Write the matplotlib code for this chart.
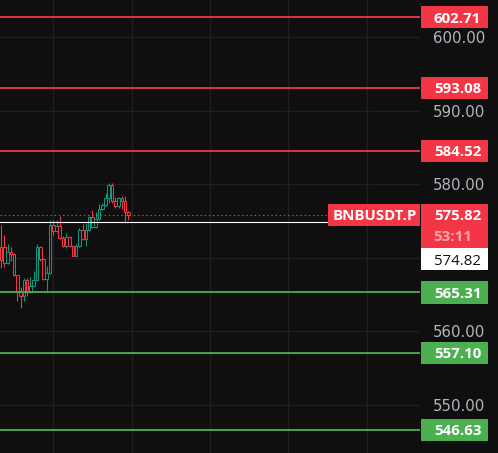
import numpy as np
import matplotlib
matplotlib.use("Agg")
import matplotlib.pyplot as plt
from matplotlib.patches import Rectangle
import matplotlib.transforms as mtransforms

plt.rcParams['lines.scale_dashes'] = False

# ---------------- data ----------------
opens = [571.5, 571.5, 569.3, 570.8, 570.5, 567.6, 565.4, 564.8, 567.0, 565.4,
         566.2, 567.0, 571.5, 569.8, 567.1, 567.9, 574.4, 573.6, 574.3, 572.7,
         571.6, 572.8, 571.6, 570.3, 571.6, 573.8, 572.6, 573.8, 575.5, 574.2,
         575.3, 576.6, 577.2, 578.1, 579.9, 577.7, 577.0, 578.1, 577.7, 576.2]
highs = [574.5, 573.1, 571.9, 571.5, 570.6, 567.6, 566.1, 567.3, 567.3, 567.4,
         568.2, 571.9, 571.6, 569.9, 568.9, 575.2, 575.2, 575.1, 575.7, 572.9,
         573.4, 573.0, 571.7, 571.9, 574.0, 574.6, 574.7, 575.7, 576.5, 576.2,
         577.3, 577.4, 578.8, 580.1, 580.2, 578.2, 578.2, 578.4, 578.4, 576.3]
lows = [568.6, 568.8, 569.1, 569.5, 567.5, 564.2, 563.2, 564.1, 564.8, 565.2,
        566.1, 566.8, 569.6, 567.0, 565.4, 567.8, 573.1, 573.5, 572.5, 571.5,
        571.3, 571.5, 570.2, 570.2, 571.5, 572.4, 571.6, 573.7, 574.0, 574.0,
        575.2, 576.5, 577.0, 577.5, 577.5, 576.8, 576.8, 576.6, 574.7, 575.2]
closes = [569.7, 569.3, 570.8, 570.5, 567.6, 565.4, 564.8, 567.0, 565.4, 566.2,
          567.0, 571.5, 569.8, 567.1, 567.9, 574.4, 573.6, 574.3, 572.7, 571.6,
          572.8, 571.6, 570.3, 571.6, 573.8, 572.6, 573.8, 575.5, 574.2, 575.3,
          576.6, 577.2, 578.1, 579.9, 577.7, 577.0, 578.1, 577.7, 576.2, 575.82]

resistance_levels = [602.71, 593.08, 584.52]
support_levels = [565.31, 557.10, 546.63]
last_price = 575.82
mark_price = 574.82
symbol = "BNBUSDT.P"
countdown = "53:11"
price_ticks = [550, 560, 570, 580, 590, 600]
price_tick_labels = ["550.00", "560.00", "", "580.00", "590.00", "600.00"]  # 570 hidden behind labels
time_grid = [16, 40, 64, 88, 112]

# ---------------- style ----------------
BG = "#0f0f0f"
GRID = "#1f1f1f"
RED = "#f23645"
GREEN_LVL = "#4caf50"
UP = "#089981"
DOWN = "#f23645"
TXT = "#b2b5be"
LFONT = ['Open Sans', 'DejaVu Sans']

W, H = 498, 453
YMIN, YMAX = 543.48, 605.03
ppu = H / (YMAX - YMIN)  # pixels per price unit

fig = plt.figure(figsize=(W / 100, H / 100), dpi=100, facecolor=BG)
ax = fig.add_axes([0, 0, 420 / W, 1])
ax.set_facecolor(BG)
ax.set_xlim(-0.31, 128.3)
ax.set_ylim(YMIN, YMAX)
for s in ax.spines.values():
    s.set_visible(False)

ax.set_xticks(time_grid)
ax.set_xticklabels([])
ax.set_yticks(price_ticks)
ax.set_yticklabels(price_tick_labels)
ax.yaxis.tick_right()
ax.tick_params(axis='both', length=0)
ax.tick_params(axis='y', pad=9.4, labelcolor=TXT, labelsize=10.8)
ax.grid(True, color=GRID, linewidth=1.0, zorder=0)
ax.set_axisbelow(True)

# candles
o = np.array(opens); h = np.array(highs); l = np.array(lows); c = np.array(closes)
idx = np.arange(len(o))
cols = np.where(c >= o, UP, DOWN)
ax.vlines(idx, l, h, colors=cols, linewidth=0.8, zorder=3)
ax.bar(idx, np.abs(c - o), bottom=np.minimum(o, c), width=0.8,
       facecolor=BG, edgecolor=cols, linewidth=0.75, zorder=4)

# level lines
for lv in resistance_levels:
    ax.axhline(lv, color=RED, linewidth=1.3, zorder=5)
for lv in support_levels:
    ax.axhline(lv, color=GREEN_LVL, linewidth=1.3, zorder=5)
ax.axhline(mark_price, color="white", linewidth=0.8, zorder=5)
ax.axhline(last_price, color=RED, linewidth=0.8, linestyle=(0, (1, 2)), zorder=5)

# symbol label
trans = mtransforms.blended_transform_factory(ax.transAxes, ax.transData)
bh = 22.5 / ppu
ax.add_patch(Rectangle((328 / 420, last_price - bh / 2), 92 / 420, bh,
                       transform=trans, facecolor=RED, edgecolor='none', zorder=8))
ax.text(374.5 / 420, last_price, symbol, transform=trans, ha='center', va='center_baseline',
        color='white', fontsize=10.8, fontweight='bold', family=LFONT, zorder=9)

# price scale labels
lab = fig.add_axes([420 / W, 0, 78 / W, 1])
lab.set_xlim(0, 78)
lab.set_ylim(YMIN, YMAX)
lab.axis('off')
lab.patch.set_alpha(0)


def price_box(yc, text, face, tcolor):
    lab.add_patch(Rectangle((1, yc - bh / 2), 67, bh, facecolor=face, edgecolor='none'))
    lab.text(37.5, yc, text, ha='center', va='center_baseline', color=tcolor,
             fontsize=10.8, fontweight='bold', family=LFONT)


for lv in resistance_levels:
    price_box(lv, f"{lv:.2f}", RED, 'white')
for lv in support_levels:
    price_box(lv, f"{lv:.2f}", GREEN_LVL, 'white')

# last price + countdown
top = last_price + 11 / ppu
cd_h = 44 / ppu
lab.add_patch(Rectangle((1, top - cd_h), 67, cd_h, facecolor=RED, edgecolor='none'))
lab.text(37.5, last_price, f"{last_price:.2f}", ha='center', va='center_baseline',
         color='white', fontsize=10.8, fontweight='bold', family=LFONT)
lab.text(13, last_price - 21 / ppu, countdown, ha='left', va='center_baseline',
         color='#f9a8b0', fontsize=10.8, fontweight='bold', family=LFONT)
# mark price box pushed below
mtop = top - cd_h
lab.add_patch(Rectangle((1, mtop - bh), 67, bh, facecolor='white', edgecolor='none'))
lab.text(37.5, mtop - bh / 2, f"{mark_price:.2f}", ha='center', va='center_baseline',
         color='#131313', fontsize=10.8, family=LFONT)

fig.savefig("out.png", dpi=100, facecolor=BG)
